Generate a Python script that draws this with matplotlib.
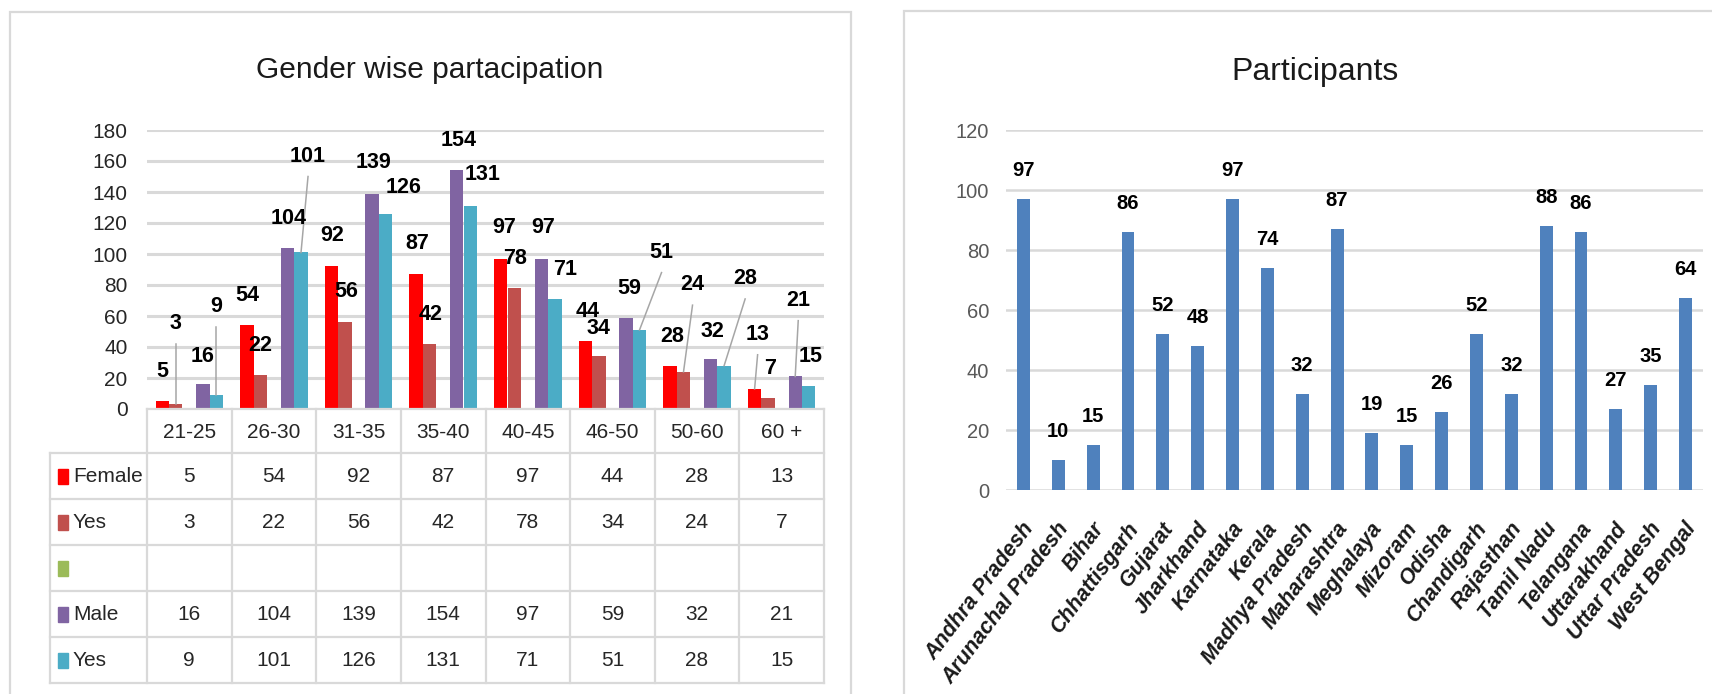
import numpy as np
import matplotlib.pyplot as plt
from matplotlib.patches import Rectangle

plt.rcParams['font.family'] = ['Liberation Sans', 'DejaVu Sans']

# ---- datos del grafico izquierdo ----
age_groups = ['21-25', '26-30', '31-35', '35-40', '40-45', '46-50', '50-60', '60 +']
female = [5, 54, 92, 87, 97, 44, 28, 13]
female_yes = [3, 22, 56, 42, 78, 34, 24, 7]
blank = [np.nan] * 8
male = [16, 104, 139, 154, 97, 59, 32, 21]
male_yes = [9, 101, 126, 131, 71, 51, 28, 15]

series_names = ['Female', 'Yes', '', 'Male', 'Yes']
series_colors = ['#FF0000', '#C0504D', '#9BBB59', '#8064A2', '#4BACC6']

# ---- datos del grafico derecho ----
states = ['Andhra Pradesh', 'Arunachal Pradesh', 'Bihar', 'Chhattisgarh', 'Gujarat',
          'Jharkhand', 'Karnataka', 'Kerala', 'Madhya Pradesh', 'Maharashtra',
          'Meghalaya', 'Mizoram', 'Odisha', 'Chandigarh', 'Rajasthan', 'Tamil Nadu',
          'Telangana', 'Uttarakhand', 'Uttar Pradesh', 'West Bengal']
participants = [97, 10, 15, 86, 52, 48, 97, 74, 32, 87, 19, 15, 26, 52, 32, 88, 86, 27, 35, 64]

# where the excel labels were dragged to: lift above bar (units) and shift (px)
label_lift = [[19, 19, 20, 20, 20, 19, 19, 35],
              [52, 19, 20, 19, 19, 18, 56, 19],
              None,
              [18, 19, 20, 19, 20, 19, 18, 49],
              [57, 62, 17, 20, 19, 50, 56, 19]]
label_shift = [[0, 0, 1, 1, 3, 2, 2, 3],
               [0, 0, 1, 1, 1, 0, 9, 2],
               None,
               [0, 1, 1, 2, 2, 3, 2, 3],
               [0, 7, 18, 12, 10, 22, 21, 2]]

W, H = 1712, 694
GRID = '#D9D9D9'
TXT = '#262626'


def px_box(x0, y0, x1, y1):
    return [x0 / W, 1 - y1 / H, (x1 - x0) / W, (y1 - y0) / H]


fig = plt.figure(figsize=(W / 100, H / 100), dpi=100)

# marcos de los dos graficos
fig.add_artist(Rectangle((10 / W, -0.05), 841 / W, 1.05 - 12 / H, transform=fig.transFigure,
                         fill=False, ec=GRID, lw=1.6))
fig.add_artist(Rectangle((904 / W, -0.05), 0.5, 1.05 - 11 / H, transform=fig.transFigure,
                         fill=False, ec=GRID, lw=1.6))

# ---------------- Gender wise partacipation ----------------
ax1 = fig.add_axes(px_box(147, 130, 824, 409))
values = [female, female_yes, blank, male, male_yes]
x = np.arange(len(age_groups)) + 0.5
width = 0.158
cat_px = (824 - 147) / len(age_groups)
for k, vals in enumerate(values):
    xs = x + (k - 2) * 0.16
    ax1.bar(xs, vals, width, color=series_colors[k], zorder=3)
    if label_lift[k] is None:
        continue
    for i, v in enumerate(vals):
        lx = xs[i] + label_shift[k][i] / cat_px
        ly = v + label_lift[k][i]
        ax1.text(lx, ly, str(v), ha='center', va='center', fontsize=15.5,
                 fontweight='bold', color='black', zorder=5)
        if label_lift[k][i] > 30:
            ax1.plot([lx, xs[i]], [ly - 13, v], color='#A6A6A6', lw=1.1, zorder=4)

ax1.set_xlim(0, len(age_groups))
ax1.set_ylim(0, 180)
ax1.set_yticks(range(0, 181, 20))
ax1.tick_params(axis='y', length=0, pad=14, labelsize=15, labelcolor=TXT)
ax1.set_xticks([])
ax1.yaxis.grid(True, color=GRID, lw=2.2)
ax1.set_axisbelow(True)
for s in ax1.spines.values():
    s.set_visible(False)

# tabla de datos debajo del grafico
tab = fig.add_axes(px_box(50, 409, 824, 683))
left = -(147 - 50) / cat_px
tab.set_xlim(left, len(age_groups))
tab.set_ylim(683, 409)
tab.axis('off')
rows = [409, 453, 499, 545, 591, 637, 683]
tab.plot([0, len(age_groups)], [rows[0], rows[0]], color=GRID, lw=1.6, clip_on=False)
for r in rows[1:]:
    tab.plot([left, len(age_groups)], [r, r], color=GRID, lw=1.6, clip_on=False)
for c in range(len(age_groups) + 1):
    tab.plot([c, c], [rows[0], rows[-1]], color=GRID, lw=1.6, clip_on=False)
tab.plot([left, left], [rows[1], rows[-1]], color=GRID, lw=1.6, clip_on=False)

for i, g in enumerate(age_groups):
    tab.text(i + 0.5, (rows[0] + rows[1]) / 2 + 1, g, ha='center', va='center',
             fontsize=15, color=TXT)
for k, vals in enumerate(values):
    yc = (rows[k + 1] + rows[k + 2]) / 2
    tab.add_patch(Rectangle((left + 8 / cat_px, yc - 7.5), 10 / cat_px, 15,
                            color=series_colors[k], clip_on=False))
    tab.text(left + 23 / cat_px, yc, series_names[k], ha='left', va='center',
             fontsize=15, color=TXT)
    for i, v in enumerate(vals):
        if not np.isnan(v):
            tab.text(i + 0.5, yc, str(v), ha='center', va='center', fontsize=15, color=TXT)

fig.text(430 / W, 1 - 78 / H, 'Gender wise partacipation', ha='center', va='baseline',
         fontsize=21.5, color='#1a1a1a')

# ---------------- Participants ----------------
ax2 = fig.add_axes(px_box(1006, 130, 1703, 490))
xs2 = np.arange(len(states))
ax2.bar(xs2, participants, 0.37, color='#4F81BD', zorder=3)
for i, v in enumerate(participants):
    ax2.annotate(str(v), (xs2[i], v), xytext=(0, 20.5), textcoords='offset points',
                 ha='center', va='center', fontsize=14.5, fontweight='bold')
    ax2.annotate(states[i], (xs2[i], 0), xytext=(5, -25), textcoords='offset points',
                 rotation=53, rotation_mode='anchor', ha='right', va='center',
                 fontsize=15.5, fontweight='bold', style='italic', color='#1a1a1a')
ax2.set_xlim(-0.5, len(states) - 0.5)
ax2.set_ylim(0, 120)
ax2.set_yticks(range(0, 121, 20))
ax2.set_xticks([])
ax2.tick_params(axis='y', length=0, pad=12, labelsize=14.5, labelcolor='#595959')
ax2.yaxis.grid(True, color=GRID, lw=1.8)
ax2.set_axisbelow(True)
for s in ax2.spines.values():
    s.set_visible(False)

fig.text(1315 / W, 1 - 80 / H, 'Participants', ha='center', va='baseline',
         fontsize=23, color='#1a1a1a')

fig.savefig('out.png', dpi=100)
